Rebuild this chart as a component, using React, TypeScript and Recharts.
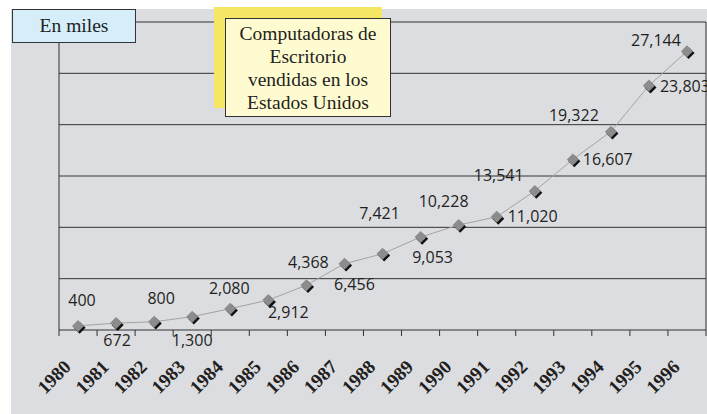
import { LineChart, Line, XAxis, YAxis, ReferenceLine, LabelList } from 'recharts'

const years = [
  '1980', '1981', '1982', '1983', '1984', '1985', '1986', '1987', '1988',
  '1989', '1990', '1991', '1992', '1993', '1994', '1995', '1996',
]
const sales = [
  400, 672, 800, 1300, 2080, 2912, 4368, 6456, 7421,
  9053, 10228, 11020, 13541, 16607, 19322, 23803, 27144,
]
const yTicks = [0, 5000, 10000, 15000, 20000, 25000, 30000]
const titleLines = ['Computadoras de', 'Escritorio', 'vendidas en los', 'Estados Unidos']

// where each value label sits relative to its point (dx, dy of text centre)
const labelOffsets: [number, number][] = [
  [4, -26], [1, 17], [7, -24], [0, 23], [-1, -21], [20, 12], [2, -23], [10, 20], [-3, -41],
  [12, 20], [-15, -24], [36, -1], [-36, -16], [35, -1], [-37, -17], [36, 0], [-31, -11],
]

const data = years.map((year, i) => ({ idx: i, year, value: sales[i] }))

const W = 707
const H = 414

function Diamond(props: any) {
  const { cx, cy } = props
  if (cx == null || cy == null) return null
  const r = 6
  const pts = (ox: number, oy: number) =>
    `${cx + ox},${cy - r + oy} ${cx + r + ox},${cy + oy} ${cx + ox},${cy + r + oy} ${cx - r + ox},${cy + oy}`
  return (
    <g>
      <polygon points={pts(1.6, 1.8)} fill="#111" />
      <polygon points={pts(0, 0)} fill="#8c8c8c" />
    </g>
  )
}

function ValueLabel(props: any) {
  const { x, y, value, index } = props
  const [dx, dy] = labelOffsets[index] ?? [0, -20]
  return (
    <text
      x={x + dx}
      y={y + dy}
      textAnchor="middle"
      dominantBaseline="central"
      fontFamily="'Open Sans', sans-serif"
      fontSize={16}
      fill="#231f20"
    >
      {Number(value).toLocaleString('en-US')}
    </text>
  )
}

function YearTick(props: any) {
  const { x, y, payload, index } = props
  const band = (typeof props.width === 'number' ? props.width : 647) / years.length
  const ax = x - 6
  const ay = y + 38
  return (
    <g>
      <line x1={x - band / 2} y1={y} x2={x - band / 2} y2={y + 6} stroke="#333" />
      {index === years.length - 1 && (
        <line x1={x + band / 2} y1={y} x2={x + band / 2} y2={y + 6} stroke="#333" />
      )}
      <text
        x={ax}
        y={ay}
        transform={`rotate(-45, ${ax}, ${ay})`}
        textAnchor="end"
        fontFamily="'Liberation Serif', 'Times New Roman', serif"
        fontWeight="bold"
        fontSize={19}
        fill="#231f20"
      >
        {years[payload.value]}
      </text>
    </g>
  )
}

export default function App() {
  return (
    <div style={{ position: 'absolute', left: 0, top: 0, width: W, height: H, background: '#fff', overflow: 'hidden' }}>
      <div style={{ position: 'absolute', left: 11, top: 9, width: W - 11, height: H - 9, background: '#dcdde0' }} />
      <div style={{ position: 'absolute', left: 0, top: 0 }}>
        <LineChart width={W} height={H} data={data} margin={{ top: 22, right: 1, left: 58, bottom: 0 }}>
          <XAxis
            dataKey="idx"
            type="number"
            domain={[-0.5, years.length - 0.5]}
            ticks={data.map(d => d.idx)}
            interval={0}
            height={84}
            tickLine={false}
            tickSize={0}
            tickMargin={0}
            axisLine={{ stroke: '#333' }}
            tick={<YearTick />}
          />
          <YAxis
            domain={[0, 30000]}
            ticks={yTicks}
            width={1}
            tick={false}
            tickLine={false}
            axisLine={{ stroke: '#333' }}
          />
          {yTicks.slice(1).map(t => (
            <ReferenceLine key={t} y={t} stroke="#333" strokeWidth={1} />
          ))}
          <ReferenceLine x={years.length - 0.5} stroke="#333" strokeWidth={1} />
          <Line
            dataKey="value"
            stroke="#a3a3a3"
            strokeWidth={1}
            dot={<Diamond />}
            activeDot={false}
            isAnimationActive={false}
          >
            <LabelList dataKey="value" content={<ValueLabel />} />
          </Line>
        </LineChart>
      </div>
      <div
        style={{
          position: 'absolute', left: 12, top: 9, width: 124, height: 34, boxSizing: 'border-box',
          background: '#d5eefa', border: '1px solid #333',
          display: 'flex', alignItems: 'center', justifyContent: 'center',
          fontFamily: "'Liberation Serif', 'Times New Roman', serif", fontSize: 19.5, color: '#231f20',
        }}
      >
        En miles
      </div>
      <div style={{ position: 'absolute', left: 214, top: 7, width: 168, height: 101, background: '#f5e663' }} />
      <div
        style={{
          position: 'absolute', left: 225, top: 18, width: 166, height: 99, boxSizing: 'border-box',
          background: '#fffbd0', border: '1px solid #333',
          display: 'flex', flexDirection: 'column', alignItems: 'center', justifyContent: 'center',
          fontFamily: "'Liberation Serif', 'Times New Roman', serif", fontSize: 19.5, lineHeight: '23px', color: '#231f20',
        }}
      >
        {titleLines.map(t => <div key={t}>{t}</div>)}
      </div>
    </div>
  )
}
